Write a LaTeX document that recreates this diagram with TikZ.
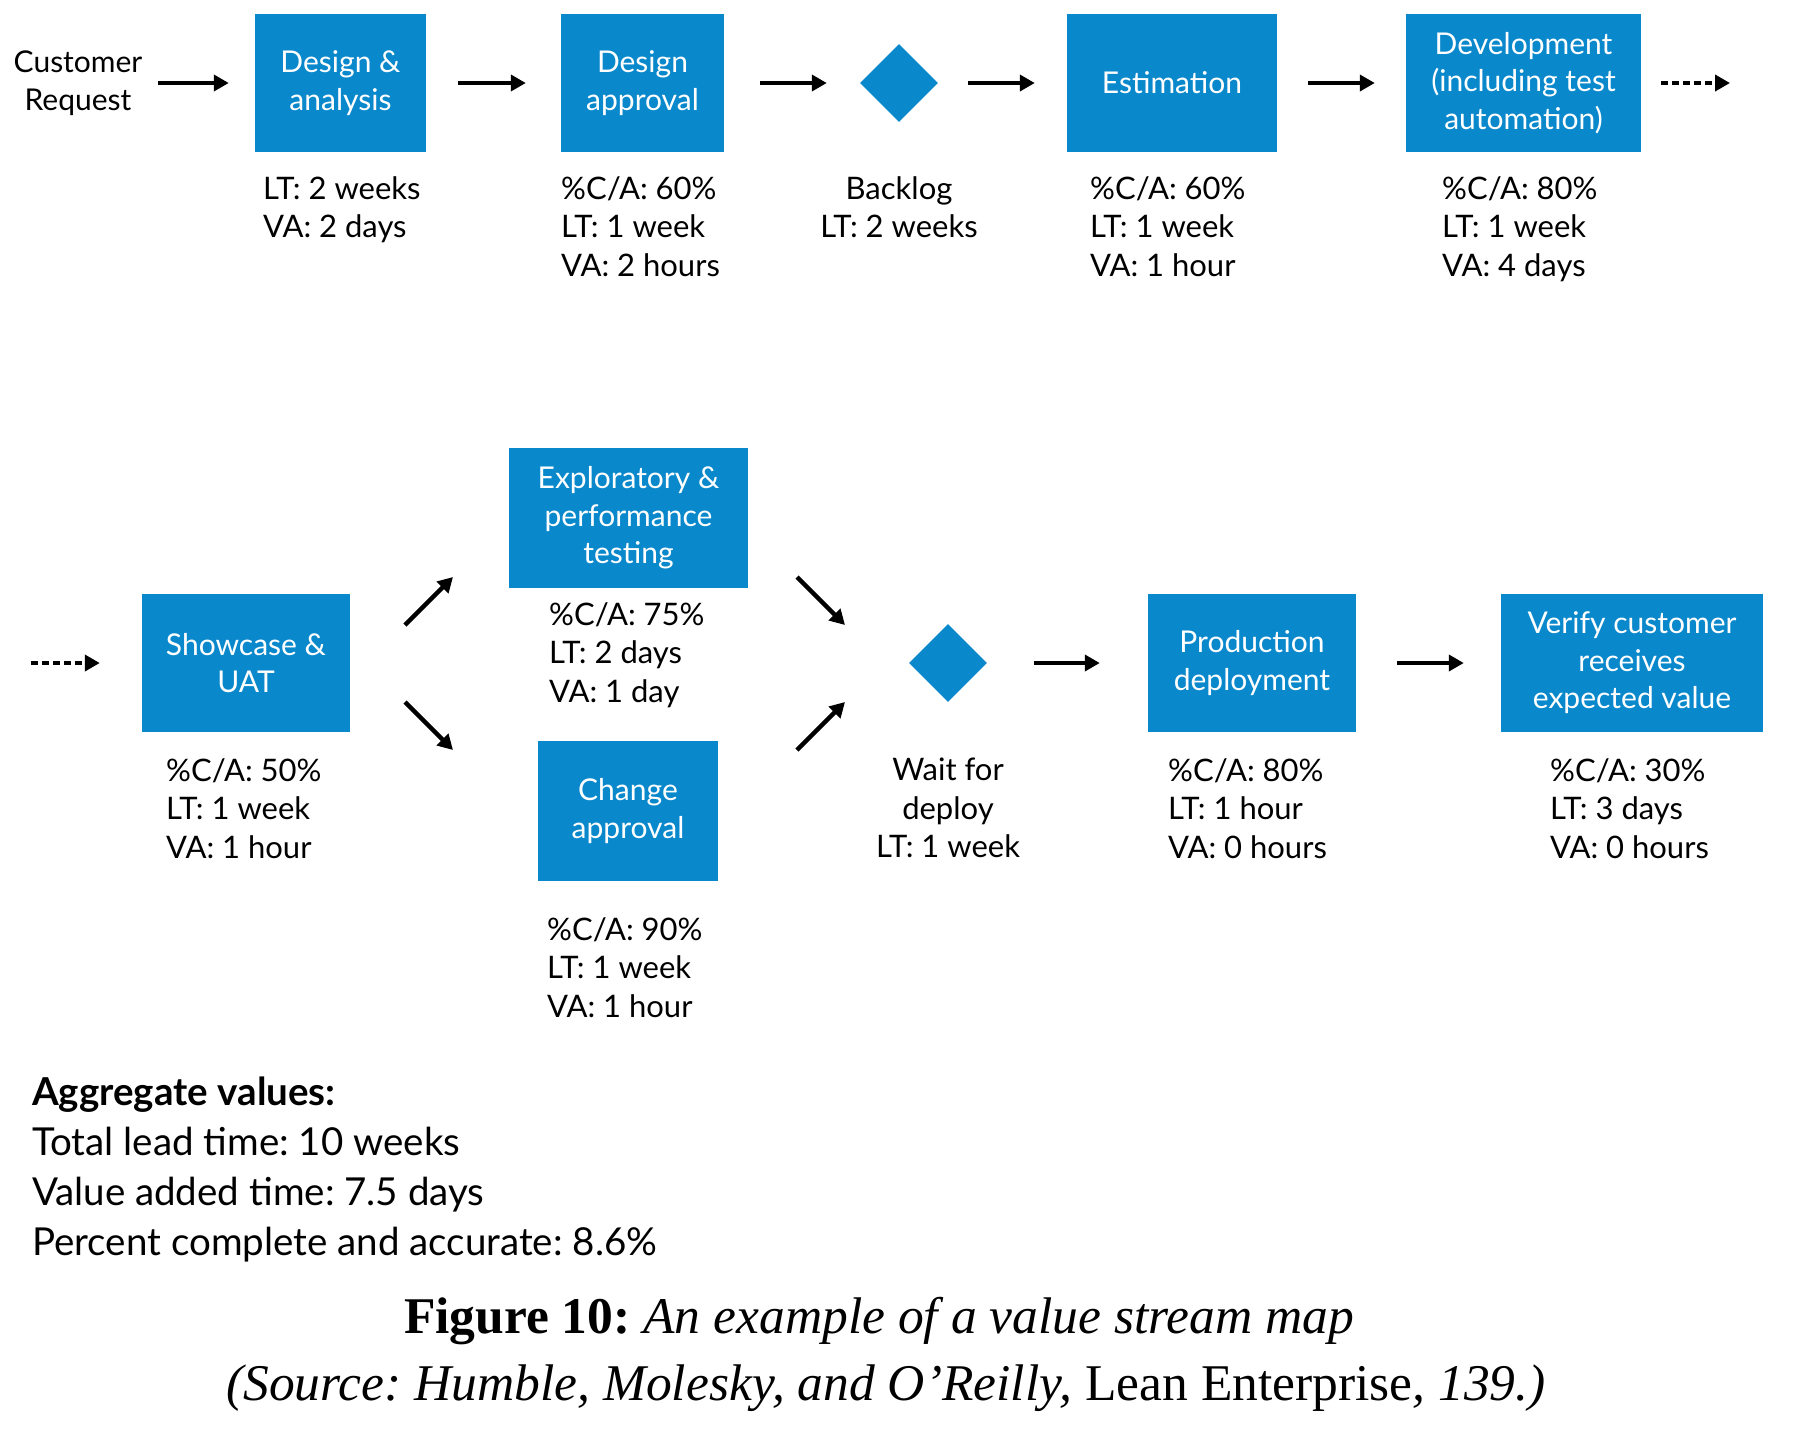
\documentclass[tikz,border=0pt]{standalone}
\usepackage{fontspec}
\setmainfont{Liberation Serif}
\newfontfamily\vsm{Lato}
\usetikzlibrary{arrows.meta,shapes.geometric}
\definecolor{vsblue}{RGB}{10,136,204}
\newcommand\vsboxfont{\vsm\fontsize{30}{37.5}\selectfont}
\newcommand\vslblfont{\vsm\fontsize{31}{38.5}\selectfont}
\newcommand\vsaggfont{\vsm\fontsize{38.5}{50}\selectfont}
\frenchspacing
\begin{document}
\frenchspacing
\begin{tikzpicture}[x=1pt,y=-1pt,
  proc/.style 2 args={fill=vsblue, text=white, font=\vsboxfont, align=center, inner sep=0pt, minimum width=#1, minimum height=#2},
  dia/.style={shape=diamond, fill=vsblue, inner sep=0pt, minimum width=78pt, minimum height=78pt},
  lbl/.style={font=\vslblfont, align=left, anchor=north west, inner sep=0pt},
  clbl/.style={font=\vslblfont, align=center, anchor=north, inner sep=0pt},
  arr/.style={line width=4.5pt, -{Triangle[length=15pt,width=16pt]}},
  darr/.style={arr, dash pattern=on 7pt off 4pt}]
\fill[white] (0,0) rectangle (1794,1436);
\useasboundingbox (0,0) rectangle (1794,1436);

% ---- top row ----
\node[font=\vsboxfont, text=black, align=center, inner sep=0pt] (cr) at (78,83) {Customer\\Request};
\node[proc={171pt}{138pt}] (da)  at (340.5,83) {Design \&\\analysis};
\node[proc={163pt}{138pt}] (dap) at (642.5,83) {Design\\approval};
\node[dia] (bl) at (899,83) {};
\node[proc={210pt}{138pt}] (est) at (1172,83) {Estimation};
\node[proc={235pt}{138pt}] (dev) at (1523.5,83) {Development\\(including test\\automation)};
\coordinate (topend) at (1730,83);

\draw[arr, shorten <=15pt, shorten >=26pt] (cr.east) -- (da.west);
\draw[arr, shorten <=32pt, shorten >=35pt] (da.east) -- (dap.west);
\draw[arr, shorten <=36pt, shorten >=33pt] (dap.east) -- (bl.west);
\draw[arr, shorten <=30pt, shorten >=32pt] (bl.east) -- (est.west);
\draw[arr, shorten <=31pt, shorten >=31pt] (est.east) -- (dev.west);
\draw[darr, shorten <=20pt] (dev.east) -- (topend);

\node[lbl] (da-l)  at (263,176)  {LT: 2 weeks\\VA: 2 days};
\node[lbl] (dap-l) at (561,176)  {\%C/A: 60\%\\LT: 1 week\\VA: 2 hours};
\node[clbl] (bl-l) at (899,176)  {Backlog\\LT: 2 weeks};
\node[lbl] (est-l) at (1090,176) {\%C/A: 60\%\\LT: 1 week\\VA: 1 hour};
\node[lbl] (dev-l) at (1442,176) {\%C/A: 80\%\\LT: 1 week\\VA: 4 days};

% ---- middle row ----
\coordinate (midstart) at (31,663);
\node[proc={208pt}{138pt}] (sh) at (246,663) {Showcase \&\\UAT};
\node[proc={239pt}{140pt}] (ex) at (628.5,518) {Exploratory \&\\performance\\testing};
\node[proc={180pt}{140pt}] (ch) at (628,811) {Change\\approval};
\node[dia] (wd) at (948,663) {};
\node[proc={208pt}{138pt}] (pd) at (1252,663) {Production\\deployment};
\node[proc={262pt}{138pt}] (vf) at (1632,663) {Verify customer\\receives\\expected value};

\coordinate (u1s) at (405,625); \coordinate (u1e) at (453,577);
\coordinate (d1s) at (405,702); \coordinate (d1e) at (453,750);
\coordinate (d2s) at (797,577); \coordinate (d2e) at (845,625);
\coordinate (u2s) at (797,750); \coordinate (u2e) at (845,702);

\draw[darr, shorten >=42pt] (midstart) -- (sh.west);
\draw[arr] (u1s) -- (u1e);
\draw[arr] (d1s) -- (d1e);
\draw[arr] (d2s) -- (d2e);
\draw[arr] (u2s) -- (u2e);
\draw[arr, shorten <=47pt, shorten >=48pt] (wd.east) -- (pd.west);
\draw[arr, shorten <=41pt, shorten >=37pt] (pd.east) -- (vf.west);

\node[lbl] (sh-l) at (166,758)  {\%C/A: 50\%\\LT: 1 week\\VA: 1 hour};
\node[lbl] (ex-l) at (549,602)  {\%C/A: 75\%\\LT: 2 days\\VA: 1 day};
\node[lbl] (ch-l) at (547,917)  {\%C/A: 90\%\\LT: 1 week\\VA: 1 hour};
\node[clbl] (wd-l) at (948,758) {Wait for\\deploy\\LT: 1 week};
\node[lbl] (pd-l) at (1168,758) {\%C/A: 80\%\\LT: 1 hour\\VA: 0 hours};
\node[lbl] (vf-l) at (1550,758) {\%C/A: 30\%\\LT: 3 days\\VA: 0 hours};

% ---- aggregate ----
\node[font=\vsaggfont, align=left, anchor=north west, inner sep=0pt] (agg) at (32,1077)
  {{\bfseries Aggregate values:}\\Total lead time: 10 weeks\\Value added time: 7.5 days\\Percent complete and accurate: 8.6\%};

% ---- caption ----
\node[font=\fontsize{51.5}{60}\selectfont, anchor=base, inner sep=0pt] (cap1) at (879,1333)
  {\textbf{Figure 10:} \textit{An example of a value stream map}};
\node[font=\fontsize{51.5}{60}\selectfont, anchor=base, inner sep=0pt] (cap2) at (886,1400)
  {\textit{(Source: Humble, Molesky, and O’Reilly,} Lean Enterprise\textit{, 139.)}};
\end{tikzpicture}
\end{document}
